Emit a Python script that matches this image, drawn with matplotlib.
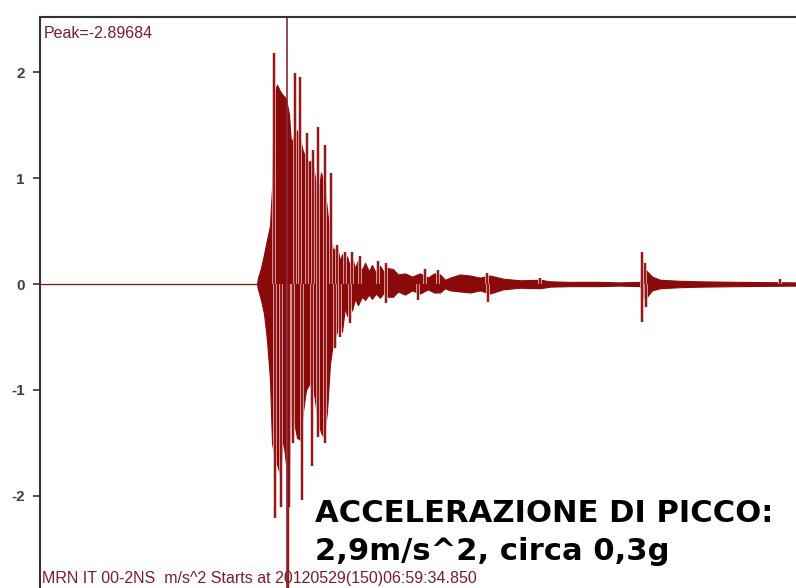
import matplotlib
matplotlib.use("Agg")
import matplotlib.pyplot as plt
import matplotlib.patheffects as pe

# envelope of the record (time in s, acceleration m/s^2)
env_t = [0.0, 21.7, 21.8, 22.1, 22.4, 22.7, 23.0, 23.2, 23.4, 23.7, 24.0, 24.3,
         24.6, 24.9, 25.1, 25.4, 25.7, 26.0, 26.3, 26.6, 26.9, 27.2, 27.5, 27.8,
         28.1, 28.4, 28.7, 29.0, 29.3, 29.7, 30.0, 30.2, 30.5, 30.7, 31.0, 31.2,
         31.5, 31.8, 32.2, 32.5, 32.9, 33.2, 33.6, 34.0, 34.4, 34.8, 35.3, 35.8,
         36.5, 37.2, 38.0, 38.8, 39.4, 40.0, 40.5, 41.0, 42.0, 43.0, 44.0, 45.0,
         46.3, 48.0, 50.0, 51.0, 53.0, 56.0, 58.0, 60.0, 60.1, 60.3, 60.7, 61.2,
         62.0, 64.0, 66.0, 70.0, 75.6]
env_hi = [0.0, 0.0, 0.06, 0.15, 0.28, 0.42, 0.55, 0.9, 1.8, 1.88, 1.82, 1.78,
          1.75, 1.6, 1.33, 1.4, 1.45, 1.36, 1.25, 1.2, 1.15, 1.17, 1.0, 0.84,
          1.05, 0.95, 0.7, 0.45, 0.32, 0.35, 0.22, 0.28, 0.18, 0.26, 0.16, 0.25,
          0.15, 0.22, 0.13, 0.2, 0.12, 0.18, 0.1, 0.17, 0.11, 0.15, 0.14, 0.09,
          0.1, 0.07, 0.1, 0.06, 0.1, 0.09, 0.04, 0.06, 0.09, 0.08, 0.06, 0.08,
          0.05, 0.035, 0.04, 0.025, 0.02, 0.02, 0.015, 0.02, 0.05, 0.16, 0.12, 0.07,
          0.04, 0.03, 0.025, 0.02, 0.015]
env_lo = [0.0, 0.0, -0.05, -0.15, -0.28, -0.53, -0.9, -1.5, -1.6, -1.7, -1.8, -1.45,
          -1.7, -1.9, -1.1, -1.3, -1.45, -1.47, -1.2, -1.0, -0.95, -0.9, -1.1, -1.3,
          -1.4, -1.45, -1.2, -0.75, -0.55, -0.45, -0.3, -0.45, -0.22, -0.3, -0.18, -0.25,
          -0.14, -0.2, -0.12, -0.15, -0.1, -0.14, -0.09, -0.13, -0.08, -0.12, -0.12, -0.07,
          -0.1, -0.06, -0.09, -0.05, -0.08, -0.08, -0.04, -0.06, -0.07, -0.08, -0.06, -0.09,
          -0.05, -0.035, -0.04, -0.025, -0.02, -0.02, -0.015, -0.02, -0.05, -0.13, -0.12, -0.06,
          -0.04, -0.03, -0.025, -0.02, -0.015]

# single spikes sticking out of the envelope
spike_t = [23.4, 25.5, 26.0, 26.7, 27.3, 27.8, 28.5, 29.1, 29.7, 30.5, 31.2, 32.0,
           33.8, 34.6, 38.5, 39.8, 44.7, 50.0, 60.2, 60.5, 74.0,
           23.5, 24.1, 24.8, 24.9, 25.3, 26.2, 27.2, 27.8, 28.5, 29.5, 30.0, 31.0,
           34.6, 37.8, 44.8, 60.2, 60.6]
spike_v = [2.18, 1.99, 1.95, 1.42, 1.26, 1.48, 1.31, 1.05, 0.37, 0.3, 0.3, 0.26,
           0.22, 0.2, 0.14, 0.13, 0.1, 0.06, 0.3, 0.2, 0.05,
           -2.21, -2.1, -2.897, -2.1, -1.5, -2.04, -1.72, -1.44, -1.5, -0.6, -0.5, -0.37,
           -0.18, -0.15, -0.17, -0.36, -0.22]

peak = -2.89684
cursor_t = 24.65
yticks = [-2, -1, 0, 1, 2]

red = '#8a0a0a'
maroon = '#7a1c2c'

fig = plt.figure(figsize=(7.96, 5.88), dpi=100)
ax = fig.add_axes([40 / 796, 0, 756 / 796, 571 / 588])

ax.fill_between(env_t, env_lo, env_hi, color=red, lw=0.8, edgecolor=red)
ax.vlines(spike_t, 0, spike_v, color=red, lw=1.3,
          path_effects=[pe.Stroke(linewidth=2.6, foreground='#e6b4b4'), pe.Normal()])
ax.axvline(cursor_t, color='#8a2a3a', lw=1.2)

ax.set_xlim(0, 75.6)
ax.set_ylim(-2.868, 2.519)
ax.set_yticks(yticks)
ax.set_yticklabels([str(v) for v in yticks])
ax.set_xticks([])
ax.tick_params(axis='y', direction='out', length=5, width=1.2, color='#333333',
               labelsize=11, labelcolor='#4a3a44', pad=6)
for lab in ax.get_yticklabels():
    lab.set_fontweight('bold')
    lab.set_family('Liberation Sans')
for s in ['right', 'bottom']:
    ax.spines[s].set_visible(False)
for s in ['left', 'top']:
    ax.spines[s].set_linewidth(1.5)
    ax.spines[s].set_color('#333333')

ax.text(0.005, 0.985, 'Peak=' + str(peak), transform=ax.transAxes, ha='left', va='top',
        color=maroon, fontsize=11.5, family='Liberation Sans')

fig.text(42 / 796, 1 - 578 / 588, 'MRN IT 00-2NS  m/s^2 Starts at 20120529(150)06:59:34.850',
         ha='left', va='center', color=maroon, fontsize=11.5, family='Liberation Sans')

t1 = fig.text(315 / 796, 1 - 522 / 588, 'ACCELERAZIONE DI PICCO:', ha='left', va='baseline',
              fontsize=20, fontweight='bold', family='DejaVu Sans', color='black')
t2 = fig.text(315 / 796, 1 - 560 / 588, '2,9m/s^2, circa 0,3g', ha='left', va='baseline',
              fontsize=20, fontweight='bold', family='DejaVu Sans', color='black')

# fit the caption to the width it has in the picture
r = fig.canvas.get_renderer()
w = t1.get_window_extent(r).width
t1.set_fontsize(20 * 457 / w)
t2.set_fontsize(20 * 457 / w)

fig.savefig('out.png', dpi=100)
